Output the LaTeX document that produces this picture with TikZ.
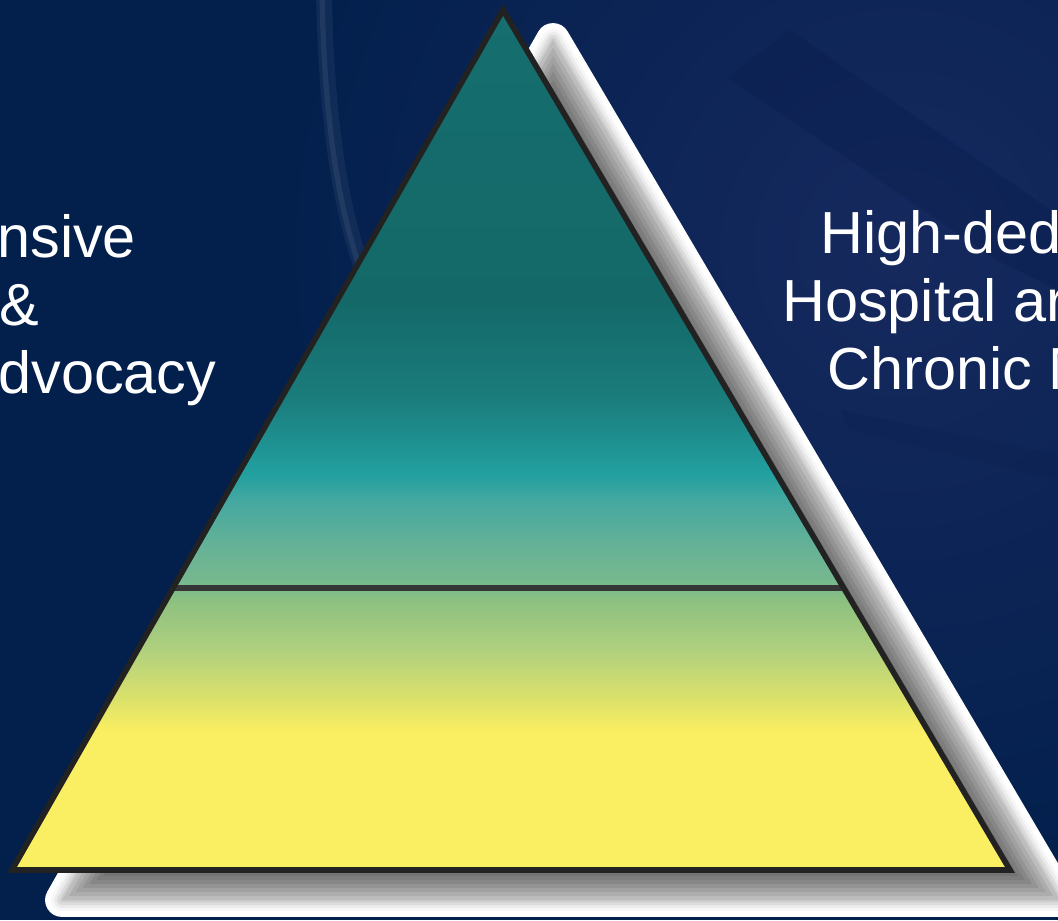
\documentclass[tikz,border=0pt]{standalone}
\usepackage{fontspec}
\setmainfont{Liberation Sans}
\usetikzlibrary{calc}
\definecolor{navy}{HTML}{03204D}
\definecolor{navylight}{HTML}{16295E}
\definecolor{navydark}{HTML}{081C4A}
\definecolor{edgegray}{HTML}{222222}
\definecolor{divgray}{HTML}{353535}
\definecolor{pyrA}{HTML}{FAEE62}
\definecolor{pyrB}{HTML}{DCE26A}
\definecolor{pyrC}{HTML}{B0D07E}
\definecolor{pyrD}{HTML}{8CC080}
\definecolor{pyrE}{HTML}{7ABA8C}
\definecolor{pyrF}{HTML}{68B296}
\definecolor{pyrG}{HTML}{44A8A0}
\definecolor{pyrH}{HTML}{22A0A0}
\definecolor{pyrI}{HTML}{1B7D7D}
\definecolor{pyrJ}{HTML}{146868}
\definecolor{pyrK}{HTML}{166E6E}
\pgfdeclareverticalshading{pyramidfill}{100bp}{color(0bp)=(pyrA); color(33.1bp)=(pyrA);
  color(34.9bp)=(pyrB); color(37.8bp)=(pyrC); color(40.7bp)=(pyrD); color(41.4bp)=(pyrE);
  color(43.6bp)=(pyrF); color(46.5bp)=(pyrG); color(48bp)=(pyrH); color(52.3bp)=(pyrI);
  color(58.1bp)=(pyrJ); color(75bp)=(pyrK); color(100bp)=(pyrK)}
\tikzset{
  lbl/.style={text=white, anchor=base west, inner sep=0pt, font=\fontsize{33.8}{40}\selectfont},
  edge/.style={draw=edgegray, line width=3.2pt},
  divider/.style={draw=divgray, line width=3.2pt},
  glow/.style={line join=round, line width={#1*1.134pt}},
}
\begin{document}
\begin{tikzpicture}[x=0.02cm,y=-0.02cm]
\useasboundingbox (0,0) rectangle (1058,920);
\fill[navy] (0,0) rectangle (1058,920);
\shade[inner color=navylight, outer color=navy] (900,250) circle (620);
\draw[white, opacity=0.05, line width=9pt, line cap=round] (324,-5) .. controls (326,100) and (336,190) .. (360,262);
\draw[white, opacity=0.07, line width=3pt, line cap=round] (322,-5) .. controls (324,100) and (334,190) .. (358,262);
\fill[navydark, opacity=0.3] (727,77) -- (790,30) -- (1058,215) -- (1058,290) -- (1000,262) -- cycle;
\fill[navydark, opacity=0.2] (840,410) -- (1058,455) -- (1058,480) -- (850,430) -- cycle;

\coordinate (apex) at (503,10);
\coordinate (baseL) at (12,870);
\coordinate (baseR) at (1010,870);
\coordinate (divL) at ($(baseL)!0.328!(apex)$);
\coordinate (divR) at ($(baseR)!0.328!(apex)$);
\coordinate (sApex) at ([shift={(50,30)}]apex);
\coordinate (sBaseL) at ([shift={(50,30)}]baseL);
\coordinate (sBaseR) at ([shift={(50,30)}]baseR);
\coordinate (sInc) at (555,613);

\foreach \r/\k in {17/0,14/0,11/3,8/8,5/14,2/20}
  \filldraw[black!\k, glow=\r] (sApex) -- (sBaseL) -- (sBaseR) -- cycle;
\foreach \d/\k in {0/26,4/32,8/37,12/42,16/47,20/51,24/55,28/58}
  \fill[black!\k] ($(sInc)!{1-\d/287}!(sApex)$) -- ($(sInc)!{1-\d/287}!(sBaseL)$) -- ($(sInc)!{1-\d/287}!(sBaseR)$) -- cycle;

\shade[shading=pyramidfill] (apex) -- (baseL) -- (baseR) -- cycle;
\draw[divider] (divL) -- (divR);
\draw[edge] (apex) -- (baseL) -- (baseR) -- cycle;

\node[lbl] (left1) at (-3,257) {nsive};
\node[lbl] (left2) at (-1,325) {\&};
\node[lbl] (left3) at (-2,393) {dvocacy};
\node[lbl] (right1) at (820,253) {High-ded};
\node[lbl] (right2) at (782,321) {Hospital ar};
\node[lbl] (right3) at (827,389) {Chronic M};
\end{tikzpicture}
\end{document}
